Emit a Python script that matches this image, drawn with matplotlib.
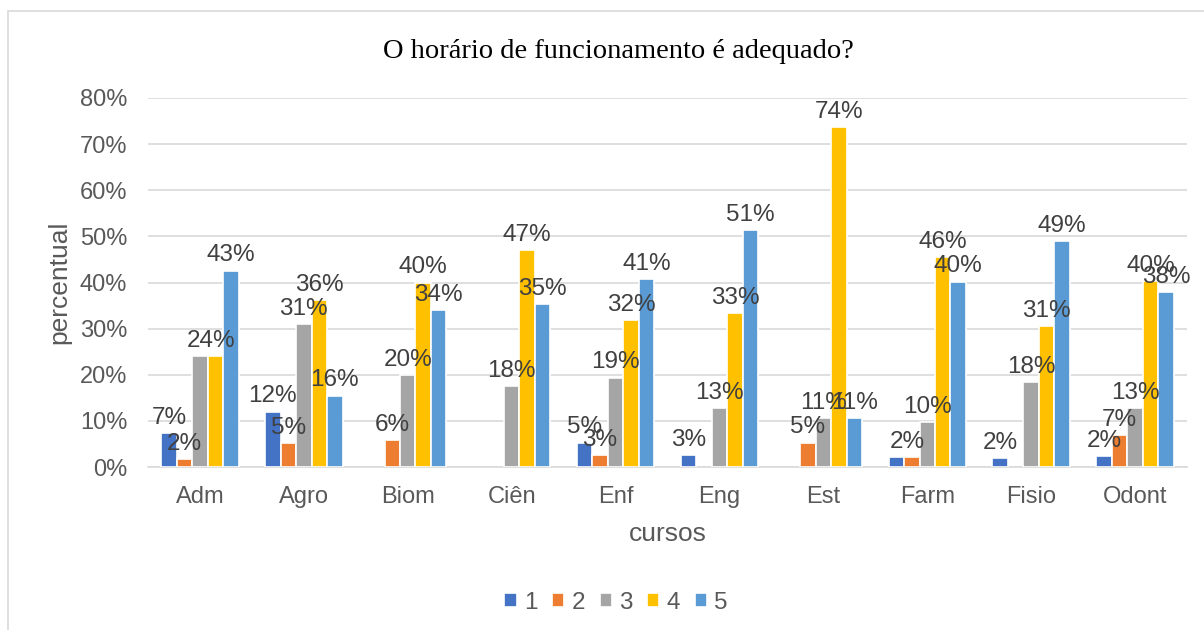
import numpy as np
import matplotlib.pyplot as plt
from matplotlib.patches import Rectangle

cursos = ["Adm", "Agro", "Biom", "Ciên", "Enf", "Eng", "Est", "Farm", "Fisio", "Odont"]
series_names = ["1", "2", "3", "4", "5"]

# percent values (None = no bar)
s1 = [7.4, 12.0, None, None, 5.3, 2.6, None, 2.1, 2.0, 2.3]
s2 = [1.8, 5.1, 5.9, None, 2.6, None, 5.3, 2.1, None, 6.9]
s3 = [24.0, 31.0, 20.0, 17.6, 19.4, 12.8, 10.6, 9.8, 18.4, 12.7]
s4 = [24.0, 36.2, 40.0, 47.1, 31.8, 33.3, 73.7, 45.6, 30.6, 40.3]
s5 = [42.6, 15.5, 34.0, 35.3, 40.7, 51.3, 10.6, 40.2, 49.0, 38.0]

colors = ["#4472C4", "#ED7D31", "#A5A5A5", "#FFC000", "#5B9BD5"]

plt.rcParams["font.family"] = ["Liberation Sans", "DejaVu Sans"]

fig = plt.figure(figsize=(12.04, 6.3), dpi=100)
fig.patches.append(Rectangle((8 / 1204, -0.1), 1.2, 1 - 11 / 630 + 0.1,
                             transform=fig.transFigure, fill=False,
                             edgecolor="#D9D9D9", linewidth=1.2))
ax = fig.add_axes([148 / 1204, 1 - 467 / 630, 1039 / 1204, 369 / 630])

x = np.arange(len(cursos))
w = 0.149
all_series = [s1, s2, s3, s4, s5]
for i, (name, vals) in enumerate(zip(series_names, all_series)):
    v = np.array([np.nan if a is None else a for a in vals], dtype=float)
    pos = x + (i - 2) * w
    ok = ~np.isnan(v)
    ax.bar(pos[ok], v[ok], width=w, color=colors[i], edgecolor="white",
           linewidth=1.2, label=name, zorder=3)
    for j, (px, val) in enumerate(zip(pos, v)):
        if np.isnan(val):
            continue
        lab = f"{val:.0f}%"
        # neighbouring bars with the same label share one label (as Excel shows)
        nxt = all_series[i + 1][j] if i < 4 else None
        prv = all_series[i - 1][j] if i > 0 else None
        if nxt is not None and f"{nxt:.0f}%" == lab and abs(nxt - val) < 0.5:
            continue
        if prv is not None and f"{prv:.0f}%" == lab and abs(prv - val) < 0.5:
            px = px - w * 0.3
        ax.annotate(lab, (px, val), xytext=(0, 3), textcoords="offset points",
                    ha="center", va="bottom", fontsize=17.5, color="#404040", zorder=4)

ax.set_xlim(-0.5, len(cursos) - 0.5)
ax.set_ylim(0, 80)
ax.set_yticks(np.arange(0, 81, 10))
ax.set_yticklabels([f"{t}%" for t in range(0, 81, 10)])
ax.set_xticks(x)
ax.set_xticklabels(cursos)
ax.tick_params(axis="both", length=0, labelsize=17, colors="#595959")
ax.tick_params(axis="x", pad=14)
ax.tick_params(axis="y", pad=15)
ax.grid(axis="y", color="#D9D9D9", linewidth=1.2, zorder=0)
for sp in ["top", "right", "left"]:
    ax.spines[sp].set_visible(False)
ax.spines["bottom"].set_color("#D9D9D9")
ax.spines["bottom"].set_linewidth(1.2)

ax.set_xlabel("cursos", fontsize=19, color="#595959", labelpad=10)
ax.set_ylabel("percentual", fontsize=19, color="#595959", labelpad=6)

fig.text(0.514, 1 - 52 / 630, "O horário de funcionamento é adequado?",
         ha="center", va="center", fontsize=20.5, family="Liberation Serif", color="black")

leg = fig.legend(*ax.get_legend_handles_labels(), loc="center",
                 bbox_to_anchor=(616 / 1204, 1 - 603 / 630), ncol=5,
                 frameon=False, fontsize=17.5, handlelength=0.5, handleheight=0.5,
                 handletextpad=0.3, columnspacing=0.6)
for t in leg.get_texts():
    t.set_color("#595959")

fig.savefig("out.png", dpi=100)
